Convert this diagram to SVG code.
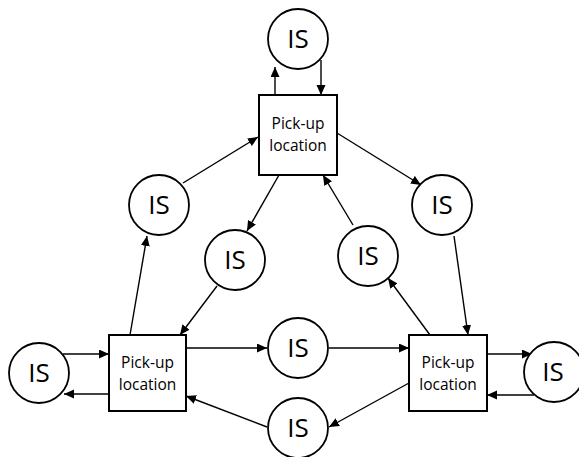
<svg xmlns="http://www.w3.org/2000/svg" width="579" height="457" viewBox="0 0 579 457">
<defs>
<marker id="ah" markerUnits="userSpaceOnUse" markerWidth="12" markerHeight="10" refX="10" refY="4.5" orient="auto">
<path d="M0,0 L10,4.5 L0,9 Z" fill="#000"/>
</marker>
</defs>
<style>
.box{fill:#fff;stroke:#000;stroke-width:2}
.circ{fill:#fff;stroke:#000;stroke-width:1.8}
.e{stroke:#000;stroke-width:1.4;fill:none;marker-end:url(#ah)}
.is{font-family:"Open Sans","Noto Sans",sans-serif;font-size:26px;text-anchor:middle}
.lb{font-family:"Open Sans","Noto Sans",sans-serif;font-size:15.5px;text-anchor:middle}
</style>
<rect width="579" height="457" fill="#fff"/>
<g id="connectors">
<line class="e" x1="275" y1="95" x2="275" y2="67"/>
<line class="e" x1="321" y1="60" x2="321" y2="95"/>
<line class="e" x1="63" y1="354" x2="109" y2="354"/>
<line class="e" x1="109" y1="394" x2="64" y2="394"/>
<line class="e" x1="487" y1="354" x2="532" y2="354"/>
<line class="e" x1="534" y1="395" x2="487" y2="395"/>
<line class="e" x1="186" y1="348" x2="267" y2="348"/>
<line class="e" x1="329" y1="348" x2="409" y2="348"/>
<line class="e" x1="409" y1="383" x2="329" y2="427"/>
<line class="e" x1="267" y1="427" x2="186" y2="396"/>
<line class="e" x1="183" y1="183" x2="258" y2="137"/>
<line class="e" x1="130" y1="335" x2="147" y2="236"/>
<line class="e" x1="279" y1="175" x2="247" y2="231"/>
<line class="e" x1="217" y1="286" x2="180" y2="335"/>
<line class="e" x1="337" y1="133" x2="421" y2="185"/>
<line class="e" x1="454" y1="236" x2="468" y2="335"/>
<line class="e" x1="430" y1="335" x2="388" y2="278"/>
<line class="e" x1="353" y1="225" x2="323" y2="175"/>
</g>
<g id="loc-top"><rect class="box" x="259" y="95" width="78" height="80"/><text class="lb" x="298" y="129">Pick-up</text><text class="lb" x="298" y="151">location</text></g>
<g id="loc-left"><rect class="box" x="109" y="335" width="77" height="76"/><text class="lb" x="147.5" y="368">Pick-up</text><text class="lb" x="147.5" y="390">location</text></g>
<g id="loc-right"><rect class="box" x="409" y="335" width="78" height="76"/><text class="lb" x="448" y="368">Pick-up</text><text class="lb" x="448" y="390">location</text></g>
<g id="is-top"><circle class="circ" cx="298" cy="39" r="30"/><text class="is" x="298" y="48">IS</text></g>
<g id="is-left"><circle class="circ" cx="39" cy="373" r="30"/><text class="is" x="39" y="382">IS</text></g>
<g id="is-right"><circle class="circ" cx="554" cy="372" r="30"/><text class="is" x="553" y="381">IS</text></g>
<g id="is-mid"><circle class="circ" cx="298" cy="348" r="30"/><text class="is" x="298" y="357">IS</text></g>
<g id="is-bottom"><circle class="circ" cx="298" cy="428" r="30"/><text class="is" x="298" y="437">IS</text></g>
<g id="is-topleft"><circle class="circ" cx="159" cy="205" r="30"/><text class="is" x="159" y="214">IS</text></g>
<g id="is-midleft"><circle class="circ" cx="235" cy="260" r="30"/><text class="is" x="235" y="269">IS</text></g>
<g id="is-topright"><circle class="circ" cx="442" cy="205" r="30"/><text class="is" x="442" y="214">IS</text></g>
<g id="is-midright"><circle class="circ" cx="368" cy="256" r="30"/><text class="is" x="368" y="265">IS</text></g>
</svg>
